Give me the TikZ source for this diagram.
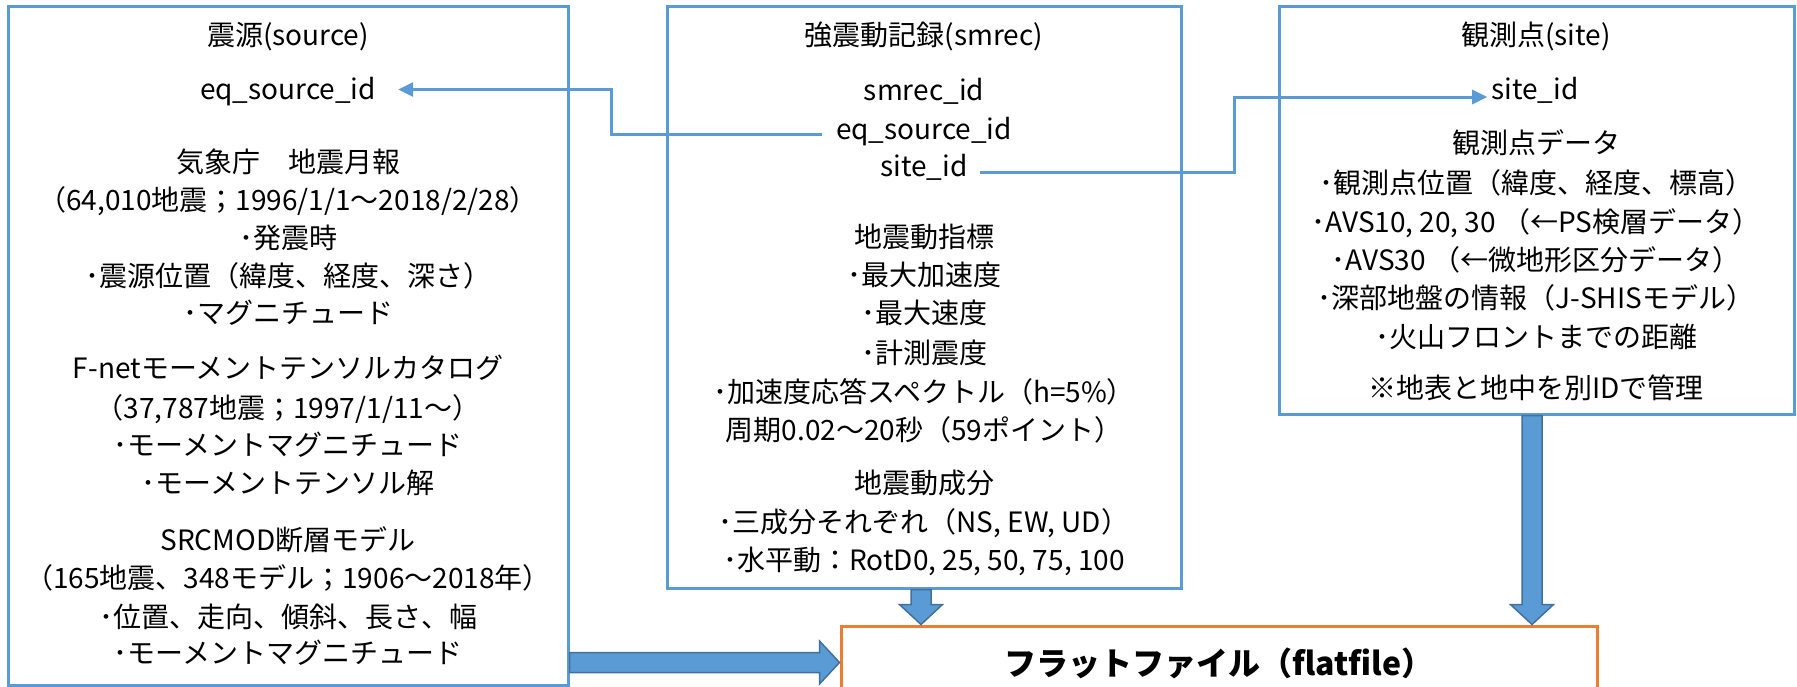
\documentclass[tikz,border=0pt]{standalone}
\usepackage{fontspec}
\setmainfont{Noto Sans CJK JP}
\usetikzlibrary{calc,arrows.meta}
\definecolor{boxblue}{RGB}{91,155,213}
\definecolor{arrowedge}{RGB}{65,113,156}
\definecolor{flatorange}{RGB}{237,125,49}
\tikzset{
  tbox/.style={draw=boxblue, line width=3pt, inner sep=0pt},
  fbox/.style={draw=flatorange, line width=3pt, inner sep=0pt, font=\bfseries\fontsize{32}{38}\selectfont},
  txt/.style={font=\fontsize{28}{34}\selectfont, inner sep=0pt, text height=21pt, text depth=6pt, anchor=base},
  conn/.style={draw=boxblue, line width=3pt},
  conntip/.style={-{Triangle[length=15pt,width=14pt]}},
  blk/.style={fill=boxblue, draw=arrowedge, line width=1.5pt, line join=miter},
}
\begin{document}
\begin{tikzpicture}[x=1pt,y=-1pt]
\useasboundingbox (0,0) rectangle (1797,686);
\clip (0,0) rectangle (1797,686);
% boxes
\node[tbox, minimum width=560pt, minimum height=679pt] (src) at (288,345.5) {};
\node[tbox, minimum width=514pt, minimum height=582pt] (mid) at (924,297) {};
\node[tbox, minimum width=515pt, minimum height=408pt] (site) at (1536.5,210) {};
\node[fbox, minimum width=756pt, minimum height=74pt] (flat) at (1219,663) {フラットファイル（flatfile）};
% source box texts
\node[txt] (s1) at (288,45) {震源(source)};
\node[txt] (s2) at (288,99) {eq\_source\_id};
\node[txt] (s3) at (288,172) {気象庁　地震月報};
\node[txt] (s4) at (288,210) {（64,010地震；1996/1/1～2018/2/28）};
\node[txt] (s5) at (288,248) {･発震時};
\node[txt] (s6) at (288,286) {･震源位置（緯度、経度、深さ）};
\node[txt] (s7) at (288,323) {･マグニチュード};
\node[txt] (s8) at (288,378) {F-netモーメントテンソルカタログ};
\node[txt] (s9) at (288,418) {（37,787地震；1997/1/11～）};
\node[txt] (s10) at (288,455) {･モーメントマグニチュード};
\node[txt] (s11) at (288,493) {･モーメントテンソル解};
\node[txt] (s12) at (288,550) {SRCMOD断層モデル};
\node[txt] (s13) at (288,588) {（165地震、348モデル；1906～2018年）};
\node[txt] (s14) at (288,627) {･位置、走向、傾斜、長さ、幅};
\node[txt] (s15) at (288,663) {･モーメントマグニチュード};
% smrec box texts
\node[txt] (m1) at (924,45) {強震動記録(smrec)};
\node[txt] (m2) at (924,100) {smrec\_id};
\node[txt] (m3) at (924,139) {eq\_source\_id};
\node[txt] (m4) at (924,176) {site\_id};
\node[txt] (m5) at (924,247) {地震動指標};
\node[txt] (m6) at (924,285) {･最大加速度};
\node[txt] (m7) at (924,323) {･最大速度};
\node[txt] (m8) at (924,363) {･計測震度};
\node[txt] (m9) at (924,402) {･加速度応答スペクトル（h=5\%）};
\node[txt] (m10) at (924,440) {周期0.02～20秒（59ポイント）};
\node[txt] (m11) at (924,493) {地震動成分};
\node[txt] (m12) at (924,532) {･三成分それぞれ（NS, EW, UD）};
\node[txt] (m13) at (924,570) {･水平動：RotD0, 25, 50, 75, 100};
% site box texts
\node[txt] (r1) at (1536,45) {観測点(site)};
\node[txt] (r2) at (1535,99) {site\_id};
\node[txt] (r3) at (1536,153) {観測点データ};
\node[txt] (r4) at (1536,193) {･観測点位置（緯度、経度、標高）};
\node[txt] (r5) at (1536,232) {･AVS10, 20, 30 （←PS検層データ）};
\node[txt] (r6) at (1536,270) {･AVS30 （←微地形区分データ）};
\node[txt] (r7) at (1536,308) {･深部地盤の情報（J-SHISモデル）};
\node[txt] (r8) at (1536,347) {･火山フロントまでの距離};
\node[txt] (r9) at (1536,398) {※地表と地中を別IDで管理};
% connectors
\coordinate (e0) at ($(m3.west)+(-14,2.5)$);
\coordinate (e1) at ($(s2.east)+(22,-2)$);
\coordinate (j1) at (611,0);
\draw[conn,conntip] (e0) -| (j1 |- e1) -- (e1);
\coordinate (e2) at ($(m4.east)+(12,3.5)$);
\coordinate (e3) at ($(r2.west)+(-4,5.5)$);
\coordinate (j2) at (1234,0);
\draw[conn,conntip] (e2) -| (j2 |- e3) -- (e3);
% block arrows
\coordinate (a1) at (mid.south);
\coordinate (b1) at (mid.south |- flat.north);
\filldraw[blk] ($(a1)+(-13,0)$) -- ($(a1)+(7,0)$) -- ($(b1)+(7,-20)$) -- ($(b1)+(18.5,-20)$) -- ($(b1)+(-3,0)$) -- ($(b1)+(-24.5,-20)$) -- ($(b1)+(-13,-20)$) -- cycle;
\coordinate (a2) at (site.south);
\coordinate (b2) at (site.south |- flat.north);
\filldraw[blk] ($(a2)+(-14.5,0)$) -- ($(a2)+(5.5,0)$) -- ($(b2)+(5.5,-20)$) -- ($(b2)+(17,-20)$) -- ($(b2)+(-4.5,0)$) -- ($(b2)+(-26,-20)$) -- ($(b2)+(-14.5,-20)$) -- cycle;
\coordinate (a3) at ($(src.south east)+(0,-24)$);
\coordinate (c3) at (flat.west |- a3);
\filldraw[blk] ($(a3)+(0,-10)$) -- ($(c3)+(-20,-10)$) -- ($(c3)+(-20,-21.5)$) -- (c3) -- ($(c3)+(-20,21.5)$) -- ($(c3)+(-20,10)$) -- ($(a3)+(0,10)$) -- cycle;
\end{tikzpicture}
\end{document}
